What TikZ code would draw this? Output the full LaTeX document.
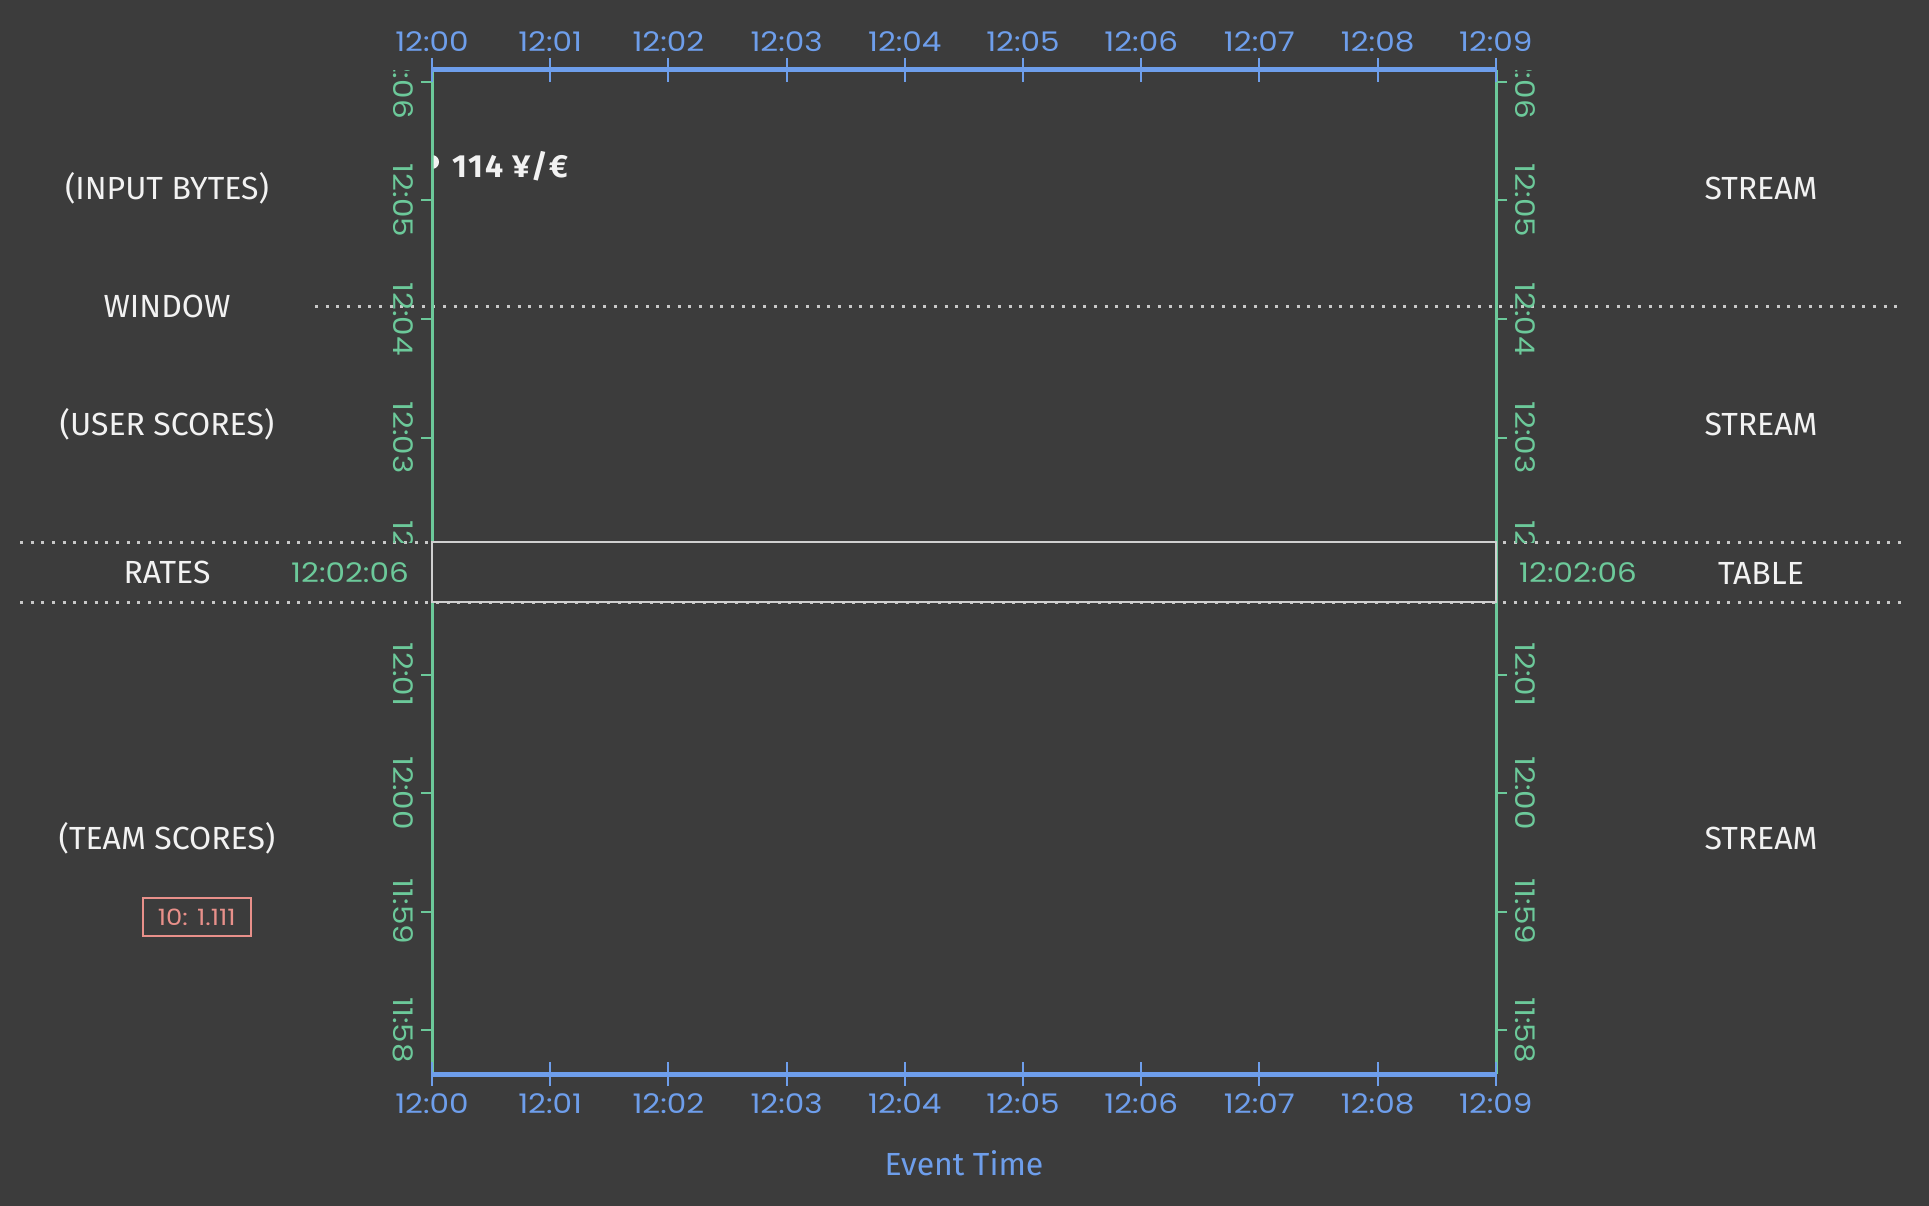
\documentclass[tikz,border=0pt]{standalone}
\usepackage{fontspec}
\setmainfont{Fira Sans}
\newfontfamily\tickfont{Poppins}[FakeStretch=1.15]
\newfontfamily\ratefont{Fira Sans}[LetterSpace=6]

\usetikzlibrary{positioning}

\begin{document}
\begin{tikzpicture}[
    x=1pt, y=-1pt,
    font=\fontsize{32}{38}\selectfont,
    lane/.style={text=lanetext, inner sep=0pt},
    ticklab/.style={font=\tickfont\fontsize{27}{32}\selectfont, inner sep=0pt},
    timelab/.style={ticklab, text=timeblue},
    evlab/.style={ticklab, text=evgreen},
    dotline/.style={draw=dotgray, line width=3pt, dash pattern=on 3pt off 7.67pt},
    xaxis/.style={draw=timeblue, line width=5pt},
    xtick/.style={draw=timeblue, line width=2pt},
    yaxis/.style={draw=evgreen, line width=3pt},
    ytick/.style={draw=evgreen, line width=2pt},
    valbox/.style={draw=valred, line width=2pt, text=valred,
                   font=\tickfont\fontsize{22.5}{26}\selectfont,
                   minimum width=108pt, minimum height=38pt, inner sep=0pt},
  ]
  \definecolor{bgc}{HTML}{3C3C3C}
  \definecolor{lanetext}{HTML}{F2F2F2}
  \definecolor{timeblue}{HTML}{6E9EEB}
  \definecolor{evgreen}{HTML}{6CC99A}
  \definecolor{dotgray}{HTML}{C8C8C8}
  \definecolor{bandgray}{HTML}{D0D0D0}
  \definecolor{valred}{HTML}{E8908A}

  % Bordes del area de datos (px)
  \def\xa{432}\def\xb{1496}
  \def\ya{70}\def\yb{1074}
  \def\dx{118.2}\def\dy{118.5}

  % ========================= FONDO ===========================
  \fill[bgc] (0,0) rectangle (1929,1206);
  \useasboundingbox (0,0) rectangle (1929,1206);

  % ===================== LINEAS PUNTEADAS ====================
  \draw[dotline] (315,306) -- (1904,306);
  \draw[dotline] (20,542) -- (1904,542);
  \draw[dotline] (20,602) -- (1904,602);

  % ====================== EJES VERTICALES ====================
  \draw[yaxis] (\xa,\ya) -- (\xa,\yb);
  \draw[yaxis] (\xb,\ya) -- (\xb,\yb);
  \begin{scope}
    % sin etiquetas dentro de la banda RATES
    \clip (0,\ya) rectangle (1929,542) (0,602) rectangle (1929,\yb);
    \foreach \lab [count=\i from 0] in
        {12:06,12:05,12:04,12:03,12:02,12:01,12:00,11:59,11:58} {
      \pgfmathsetmacro{\yy}{82+\i*\dy}
      \draw[ytick] (\xa-11,\yy) -- (\xa,\yy);
      \draw[ytick] (\xb,\yy) -- (\xb+11,\yy);
      \node[evlab, rotate=-90] (vl\i) at (403,\yy) {\lab};
      \node[evlab, rotate=-90] (vr\i) at (1525,\yy) {\lab};
    }
  \end{scope}

  % ========================= BANDA RATES =====================
  \draw[bandgray, fill=bgc, line width=1.5pt] (\xa,542) rectangle (\xb,602);

  % ===================== EJES HORIZONTALES ===================
  \draw[xaxis] (\xa,\ya) -- (\xb,\ya);
  \draw[xaxis] (\xa,\yb) -- (\xb,\yb);
  \foreach \lab [count=\i from 0] in
      {12:00,12:01,12:02,12:03,12:04,12:05,12:06,12:07,12:08,12:09} {
    \pgfmathsetmacro{\xx}{\xa+\i*\dx}
    \draw[xtick] (\xx,\ya-12) -- (\xx,\ya+12);
    \draw[xtick] (\xx,\yb-12) -- (\xx,\yb+12);
    \node[timelab] (tt\i) at (\xx,41.5) {\lab};
    \node[timelab] (tb\i) at (\xx,1104) {\lab};
  }

  % ========================= CARRILES ========================
  \node[lane] (lin)   at (167,188) {(INPUT BYTES)};
  \node[lane] (lwin)  at (167,306) {WINDOW};
  \node[lane] (luser) at (167,424) {(USER SCORES)};
  \node[lane] (lrate) at (167,572) {RATES};
  \node[lane] (lteam) at (167,838) {(TEAM SCORES)};
  \node[lane] (rin)   at (1761,188) {STREAM};
  \node[lane] (ruser) at (1761,424) {STREAM};
  \node[lane] (rrate) at (1761,573) {TABLE};
  \node[lane] (rteam) at (1761,838) {STREAM};

  % ===================== MARCAS DE TIEMPO ====================
  \node[evlab] (ratel) at (350,573) {12:02:06};
  \node[evlab] (rater) at (1578,573) {12:02:06};

  % ========================== VALORES ========================
  \node[valbox] (score) at (196.7,917) {10: 1.111};
  \begin{scope}
    \clip (\xa+1.5,\ya) rectangle (\xb,\yb);
    \fill[lanetext] (432,162) circle (7);
  \end{scope}
  \node[lane, anchor=west, font=\ratefont\bfseries\fontsize{32}{38}\selectfont]
    (rate) at (452,166) {114 ¥/€};

  % ========================== TITULO =========================
  \node[text=timeblue, inner sep=0pt, font=\fontsize{32}{38}\selectfont]
    (evt) at (964,1163) {Event Time};
\end{tikzpicture}
\end{document}
